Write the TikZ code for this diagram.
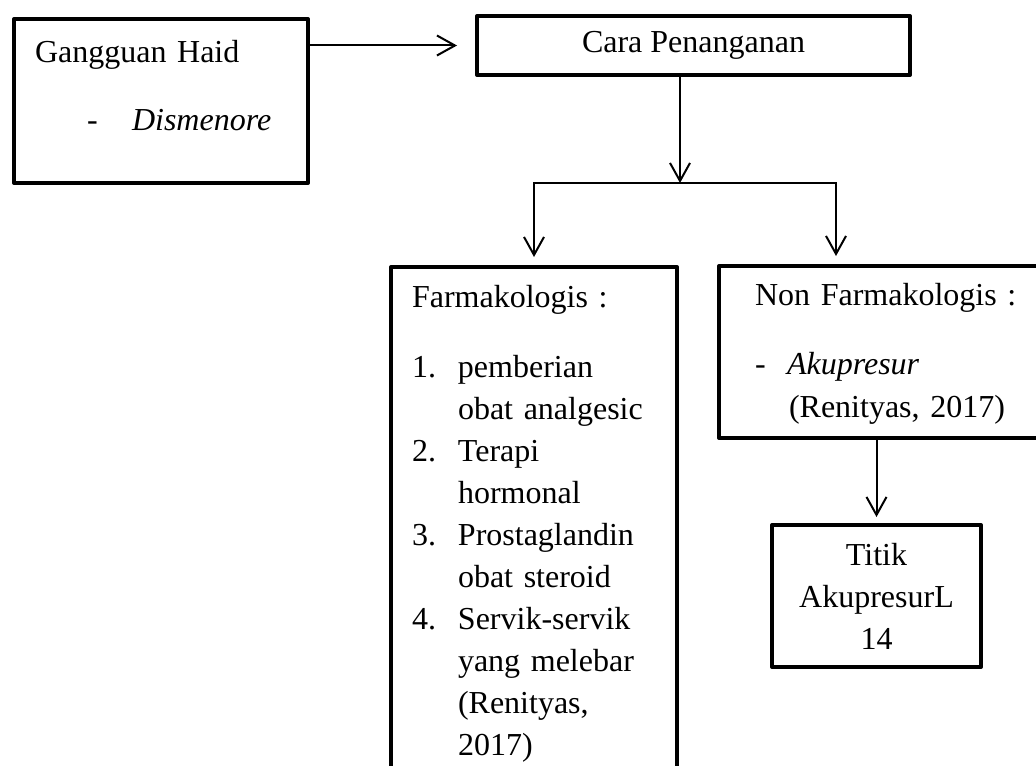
\documentclass[tikz,border=0pt]{standalone}
\usepackage{fontspec}
\setmainfont{Liberation Serif}
\usetikzlibrary{arrows.meta, positioning, calc}
\tikzset{
  every picture/.style={line width=1pt},
  kotak/.style={draw, line width=2pt, line join=round, anchor=north west, inner sep=0pt, font=\fontsize{16}{21}\selectfont},
  panah/.style={-{Straight Barb[length=9pt, width=10pt]}, line width=1pt},
}

\begin{document}
\begin{tikzpicture}[x=0.5pt, y=-0.5pt,
  isi/.style={align=left, text height=12pt}]
  \useasboundingbox (0,0) rectangle (1036,765);
  % ---------- baris atas ----------
  \node[kotak, isi, text width=126pt, inner xsep=10.5pt, inner ysep=9.5pt, text depth=51pt] (haid) at (12,17)
    {Gangguan Haid\\[13pt]\hspace*{26pt}\makebox[22.5pt][l]{-}\textit{Dismenore}};
  \node[kotak, minimum width=216.5pt, minimum height=29.5pt] (cara) at (475,14) {Cara Penanganan};
  % ---------- dua cabang ----------
  \node[kotak, isi, text width=122pt, inner xsep=10.5pt, inner ysep=8pt, text depth=239.5pt] (farm) at (389,265)
    {Farmakologis :\\[14pt]
     \makebox[23pt][l]{1.}pemberian\\
     \hspace*{23pt}obat analgesic\\
     \makebox[23pt][l]{2.}Terapi\\
     \hspace*{23pt}hormonal\\
     \makebox[23pt][l]{3.}Prostaglandin\\
     \hspace*{23pt}obat steroid\\
     \makebox[23pt][l]{4.}Servik-servik\\
     \hspace*{23pt}yang melebar\\
     \hspace*{23pt}(Renityas,\\
     \hspace*{23pt}2017)};
  \node[kotak, isi, text width=135.5pt, inner xsep=18pt, inner ysep=7.5pt, text depth=59pt] (nonfarm) at (717,264)
    {Non Farmakologis :\\[13.5pt]
     \makebox[16pt][l]{-}\textit{Akupresur}\\[0.5pt]
     \hspace*{17pt}(Renityas, 2017)};
  \node[kotak, align=center, minimum width=104.5pt, minimum height=71pt] (titik) at (770,523)
    {Titik\\AkupresurL\\14};
  % ---------- panah ----------
  \coordinate (cabang) at (680,183);
  \draw[panah, shorten >=9pt] (haid.east |- cara.west) -- (cara.west);
  \draw[panah] (cabang |- cara.south) -- (cabang);
  \draw[panah, shorten >=4pt] (cabang) -| (farm.north);
  \draw[panah, shorten >=4pt] (cabang) -| ($(nonfarm.north west)+(119,0)$);
  \draw[panah, shorten >=3pt] (titik.north |- nonfarm.south) -- (titik.north);
\end{tikzpicture}
\end{document}
